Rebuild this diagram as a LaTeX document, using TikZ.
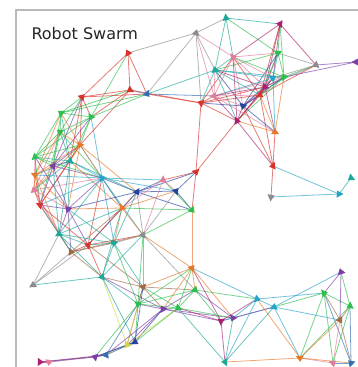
\documentclass[tikz,border=0pt]{standalone}
\usepackage{fontspec}
\setmainfont{DejaVu Sans}
\usetikzlibrary{shapes.geometric}
\definecolor{cred}{HTML}{D8342C}
\definecolor{cgreen}{HTML}{2DBE4E}
\definecolor{cteal}{HTML}{1FA89A}
\definecolor{ccyan}{HTML}{27A3C9}
\definecolor{cblue}{HTML}{2F6FB3}
\definecolor{cdblue}{HTML}{27439E}
\definecolor{cpurple}{HTML}{7B3FA6}
\definecolor{cmagenta}{HTML}{A8206E}
\definecolor{cpink}{HTML}{E07C9C}
\definecolor{corange}{HTML}{E6782A}
\definecolor{cgray}{HTML}{8C8C8C}
\definecolor{cbrown}{HTML}{A06A48}
\definecolor{cyellow}{HTML}{D6D63A}
\tikzset{
  edge/.style={line width=0.8pt, opacity=0.65},
  robot/.style={isosceles triangle, isosceles triangle apex angle=55,
    isosceles triangle stretches, inner sep=0pt,
    minimum width=8pt, minimum height=6pt, draw=none},
  frame/.style={draw=gray!55, line width=1.2pt},
  title/.style={anchor=base west, font=\fontsize{16}{16}\selectfont, text=black!85},
}
\def\robots{128/53/cred, 130/90/cred, 147/94/cblue, 82/97/cred, 61/113/cgreen,
91/117/cgreen, 226/18/cteal, 196/33/cgray, 280/24/cmagenta, 278/53/cgreen,
233/57/cpink, 215/70/cteal, 316/65/cgray, 356/62/cpurple, 273/78/ccyan,
284/77/cgreen, 265/87/cmagenta, 260/95/cred, 214/96/cpink, 201/103/cred,
243/106/cdblue, 237/121/cmagenta, 275/132/corange, 273/166/cred, 196/172/cred,
271/197/cgray, 339/194/ccyan, 351/178/cteal, 192/210/cgreen, 176/191/cdblue,
60/132/cgreen, 80/145/corange, 35/157/cgreen, 70/161/cteal, 53/166/cpurple,
35/175/corange, 102/178/ccyan, 34/190/cpink, 163/180/cpink, 137/192/cdblue,
40/205/cred, 68/209/cpurple, 122/208/corange, 59/234/cteal, 143/235/cgray,
88/245/cred, 114/243/cteal, 71/252/cbrown, 33/285/cgray, 102/277/cteal,
143/287/cbrown, 138/304/cgreen, 163/309/cpurple, 178/308/cgreen, 195/290/cgreen,
192/268/corange, 221/321/cmagenta, 233/318/cpurple, 257/299/ccyan, 274/307/ccyan,
225/362/cteal, 300/358/corange, 324/293/cgreen, 341/272/cpurple, 350/306/cgreen,
340/320/cbrown, 333/363/cpink, 351/363/cblue, 127/345/cyellow, 135/342/cdblue,
106/355/cblue, 95/357/cpurple, 49/362/cpink, 40/362/cmagenta}
\expandafter\def\csname ex-23-26\endcsname{}
\expandafter\def\csname ex-24-25\endcsname{}
\begin{document}
\begin{tikzpicture}[x=1pt,y=-1pt]
\useasboundingbox (0,0) rectangle (358,367);
\coordinate (fa) at (16,367);
\coordinate (fb) at (16,10);
\coordinate (fc) at (358,10);
\draw[frame] (fa) -- (fb) -- (fc);
\node[title] (t) at (28,39) {Robot Swarm};
\foreach \x/\y/\c [count=\i] in \robots { \coordinate (n\i) at (\x,\y); }
\foreach \xa/\ya/\ca [count=\i] in \robots {
  \foreach \xb/\yb/\cb [count=\j] in \robots {
    \ifnum\j>\i
      \pgfmathsetmacro\d{veclen(\xb-\xa,\yb-\ya)}
      \ifdim\d pt<76pt
        \ifcsname ex-\i-\j\endcsname\else
          \pgfmathtruncatemacro\pick{mod(\i+\j,2)}
          \ifnum\pick=0
            \draw[edge,\ca] (n\i) -- (n\j);
          \else
            \draw[edge,\cb] (n\i) -- (n\j);
          \fi
        \fi
      \fi
    \fi
  }
}
\draw[edge,cgreen] (n5) -- (n3);
\draw[edge,cgray] (n8) -- (n3);
\foreach \x/\y/\c [count=\i] in \robots {
  \pgfmathtruncatemacro\ang{mod(\i*97+20,360)}
  \node[robot, fill=\c, rotate=\ang] (m\i) at (n\i) {};
}
\end{tikzpicture}
\end{document}
